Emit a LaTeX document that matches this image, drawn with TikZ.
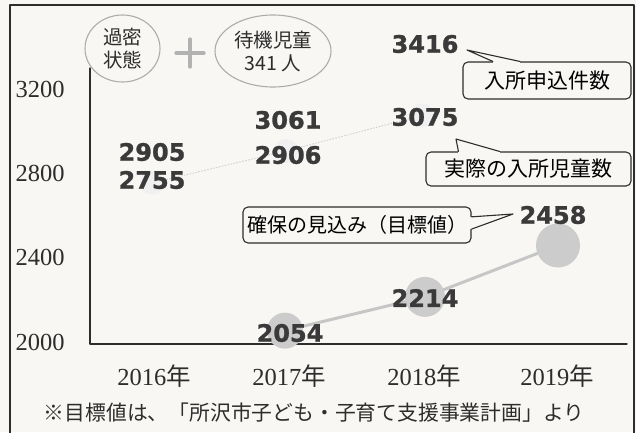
\documentclass[tikz,border=0pt]{standalone}
\usepackage{fontspec}
\newfontfamily\jpfont{Noto Sans CJK JP}
\newfontfamily\numfont[BoldFeatures={FakeBold=1.2}]{DejaVu Sans}
\newfontfamily\axfont{Liberation Serif}
\usetikzlibrary{calc,shapes.geometric}
\definecolor{paper}{RGB}{248,247,243}
\definecolor{ink}{RGB}{45,45,45}
\definecolor{numgray}{RGB}{58,58,58}
\newcommand{\vy}[1]{342-0.2108*(#1-2000)}
\begin{document}
\begin{tikzpicture}[
	x=1pt,
	y=-1pt,
	line join=round,
	line cap=round,
	>=latex,
	bignum/.style={font=\numfont\bfseries\fontsize{24}{24}\selectfont, text=numgray},
	callout/.style={draw=ink, line width=1.1pt, rounded corners=5pt, fill=paper,
		inner sep=0pt, font=\jpfont\fontsize{21}{21}\selectfont},
	bubble/.style={ellipse, draw=gray!65, line width=1.1pt, inner sep=0pt, align=center,
		font=\jpfont\fontsize{19.5}{23}\selectfont, text=ink},
	vallab/.style={font=\axfont\fontsize{24.5}{24.5}\selectfont, text=ink},
	yearlab/.style={font=\axfont\fontsize{24.5}{24.5}\selectfont, text=ink},
	]
\useasboundingbox (0,0) rectangle (636,432);
\fill[paper] (0,0) rectangle (636,432);
\draw[ink, line width=1.2pt] (10,440) -- (10,5) -- (634,5) -- (634,440);
% axes and labels
\draw[ink, line width=1.3pt] (90,68) -- (90,344) -- (627,344);
\foreach \v in {2000, 2400, 2800, 3200}
	\node[vallab] (v\v) at (40,{\vy{\v}}) {\v};
\foreach \x/\yr in {154/2016, 289/2017, 424/2018, 557/2019}
	\node[yearlab] (y\yr) at (\x,376) {\yr{\jpfont 年}};
% actual children (faint)
\coordinate (a16) at (152,{\vy{2755}});
\coordinate (a17) at (286,{\vy{2906}});
\coordinate (a18) at (422,{\vy{3075}});
\draw[gray!35, line width=1pt, dotted] (a16) -- (a17) -- (a18);
\foreach \p in {a16, a17, a18}
	\fill[gray!12] (\p) circle (12);
% target series
\coordinate (t17) at (285,{\vy{2054}});
\coordinate (t18) at (425,{\vy{2214}});
\coordinate (t19) at (558,{\vy{2458}});
\draw[gray!45, line width=3pt] (t17) -- (t18) -- (t19);
\foreach \p/\r in {t17/18, t18/20, t19/22}
	\fill[gray!40] (\p) circle (\r);
% numbers
\node[bignum] (n2905) at (152,152) {2905};
\node[bignum] (n2755) at (152,180) {2755};
\node[bignum] (n3061) at (288,120) {3061};
\node[bignum] (n2906) at (288,155) {2906};
\node[bignum] (n3416) at (425,44) {3416};
\node[bignum] (n3075) at (425,117) {3075};
\node[bignum] (n2054) at (290,333) {2054};
\node[bignum] (n2214) at (425,298) {2214};
\node[bignum] (n2458) at (553,215) {2458};
% callouts
\node[callout, minimum width=168pt, minimum height=37pt] (apply) at (547,80.5) {入所申込件数};
\node[callout, minimum width=205pt, minimum height=34pt] (actual) at (528.5,169) {実際の入所児童数};
\node[callout, minimum width=228pt, minimum height=36pt,
	font=\jpfont\fontsize{20}{20}\selectfont] (target) at (357,225) {確保の見込み（目標値）};
\coordinate (applytip) at (467,50);
\coordinate (actualtip) at (456,139);
\coordinate (targettip) at (513,214);
\foreach \bx/\s/\e/\fa/\fb in {apply/north west/north east/0.18/0.34,
		actual/north west/north east/0.16/0.36,
		target/north east/south east/0.28/0.61}
	{
	\coordinate (p1) at ($(\bx.\s)!\fa!(\bx.\e)$);
	\coordinate (p2) at ($(\bx.\s)!\fb!(\bx.\e)$);
	\draw[paper, line width=2.5pt, line cap=butt] (p1) -- (p2);
	\fill[paper] (p1) -- (\bx tip) -- (p2) -- cycle;
	\draw[ink, line width=1.1pt] (p1) -- (\bx tip) -- (p2);
	}
% crowding + waiting
\node[bubble, minimum width=75pt, minimum height=67pt] (crowd) at (122.5,48.5) {過密\\状態};
\node[bubble, minimum width=116pt, minimum height=72pt] (wait) at (273,51) {待機児童\\341 人};
\draw[gray!60, line width=3.2pt] (176,53) -- (204,53) (190,39) -- (190,67);
% note
\node[font=\jpfont\fontsize{20.8}{20.8}\selectfont, text=ink] (note) at (314,413)
	{※目標値は、「所沢市子ども・子育て支援事業計画」より};
\end{tikzpicture}
\end{document}
